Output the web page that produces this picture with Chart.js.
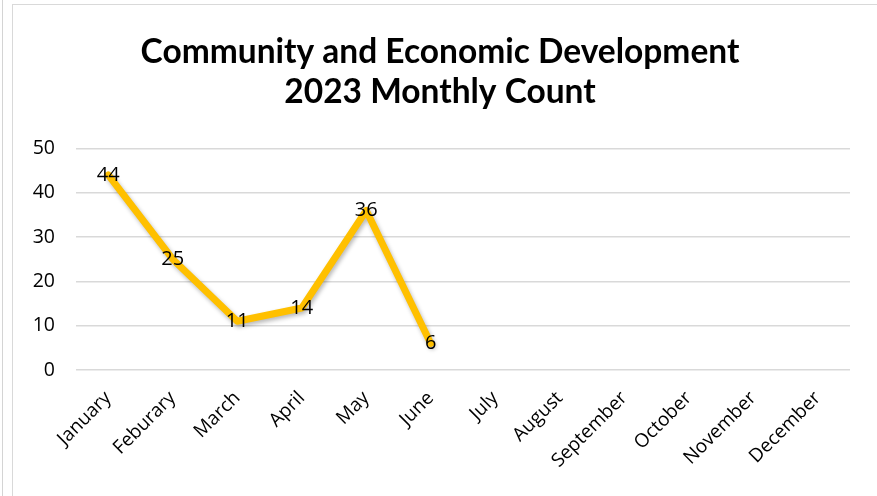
<!DOCTYPE html>
<html>
<head>
<meta charset="utf-8">
<script src="https://cdn.jsdelivr.net/npm/chart.js@4"></script>
<style>
  html, body { margin: 0; padding: 0; background: #fff; }
  body { width: 877px; height: 496px; position: relative; overflow: hidden; }
  #wrap { position: absolute; left: 0; top: 0; width: 877px; height: 496px; }
  .l1 { position: absolute; left: 2px; top: 0; width: 1px; height: 496px; background: #d4d4d4; }
  .frame { position: absolute; left: 12px; top: 4px; right: -5px; bottom: -5px; border-left: 1px solid #d9d9d9; border-top: 1px solid #d9d9d9; }
</style>
</head>
<body>
<div id="wrap"><canvas id="c" width="877" height="496"></canvas></div>
<div class="l1"></div>
<div class="frame"></div>
<script>
const titleLines = ["Community and Economic Development", "2023 Monthly Count"];
const months = ["January","Feburary","March","April","May","June","July","August","September","October","November","December"];
const counts = [44, 25, 11, 14, 36, 6, null, null, null, null, null, null];
const yTicks = [0, 10, 20, 30, 40, 50];

const labelPlugin = {
  id: 'pointLabels',
  beforeDatasetDraw(chart) {
    const ctx = chart.ctx;
    ctx.save();
    ctx.shadowColor = 'rgba(0,0,0,0.28)';
    ctx.shadowBlur = 4;
    ctx.shadowOffsetX = 1.5;
    ctx.shadowOffsetY = 2.5;
  },
  afterDatasetDraw(chart) {
    chart.ctx.restore();
  },
  afterDatasetsDraw(chart) {
    const ctx = chart.ctx;
    const meta = chart.getDatasetMeta(0);
    ctx.save();
    ctx.font = '20px "Open Sans", sans-serif';
    ctx.fillStyle = '#000';
    ctx.textAlign = 'center';
    ctx.textBaseline = 'middle';
    meta.data.forEach((pt, i) => {
      const v = counts[i];
      if (v === null || v === undefined) return;
      ctx.fillText(String(v), pt.x, pt.y);
    });
    ctx.restore();
  }
};

new Chart(document.getElementById('c'), {
  type: 'line',
  data: {
    labels: months,
    datasets: [{
      data: counts,
      borderColor: '#FFC000',
      borderWidth: 7,
      pointRadius: 0,
      tension: 0,
      borderJoinStyle: 'round',
      borderCapStyle: 'round',
      spanGaps: false
    }]
  },
  options: {
    responsive: false,
    animation: false,
    devicePixelRatio: 1,
    layout: { padding: { left: 30, right: 27, top: 32, bottom: 16 } },
    plugins: {
      legend: { display: false },
      tooltip: { enabled: false },
      title: {
        display: true,
        text: titleLines,
        color: '#000',
        font: { family: 'Lato, "Open Sans", sans-serif', size: 33.5, weight: 'bold' },
        lineHeight: 1.34,
        padding: { top: 0, bottom: 36 }
      }
    },
    scales: {
      x: {
        offset: true,
        grid: { display: false },
        border: { display: false },
        afterFit(axis) { axis.height = 110; },
        ticks: {
          color: '#000',
          font: { family: '"Open Sans", sans-serif', size: 19 },
          maxRotation: 45, minRotation: 45,
          autoSkip: false,
          padding: 9
        }
      },
      y: {
        min: 0, max: 50,
        afterBuildTicks(axis) { axis.ticks = yTicks.map(v => ({ value: v })); },
        afterFit(axis) { axis.width = 46; },
        grid: { color: '#d9d9d9', lineWidth: 1.5, drawTicks: false },
        border: { display: false },
        ticks: {
          color: '#000',
          font: { family: '"Open Sans", sans-serif', size: 19.5 },
          padding: 21
        }
      }
    }
  },
  plugins: [labelPlugin]
});
</script>
</body>
</html>
